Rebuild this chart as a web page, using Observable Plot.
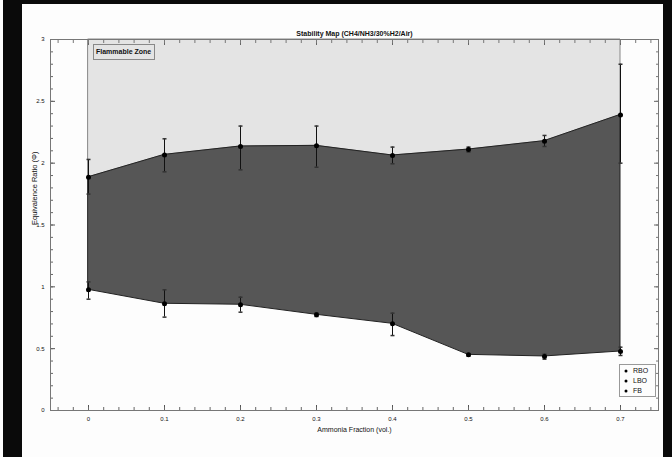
<!DOCTYPE html>
<html><head><meta charset="utf-8">
<meta name="color-scheme" content="only light">
<script src="https://cdn.jsdelivr.net/npm/d3@7"></script>
<script src="https://cdn.jsdelivr.net/npm/@observablehq/plot@0.6"></script>
<style>
html,body{margin:0;padding:0;background:#fdfdfd;}
svg{display:block;}
</style></head><body>
<script>
// Data
const fraction = [0, 0.1, 0.2, 0.3, 0.4, 0.5, 0.6, 0.7];
const rbo   = [1.886, 2.067, 2.135, 2.14, 2.062, 2.11, 2.178, 2.39];
const rboLo = [1.75, 1.93, 1.946, 1.967, 1.995, 2.09, 2.135, 2.0];
const rboHi = [2.03, 2.197, 2.30, 2.30, 2.13, 2.13, 2.224, 2.8];
const lbo   = [0.976, 0.863, 0.855, 0.774, 0.701, 0.45, 0.437, 0.477];
const lboLo = [0.90, 0.755, 0.795, 0.76, 0.606, 0.44, 0.415, 0.445];
const lboHi = [1.04, 0.976, 0.916, 0.79, 0.787, 0.46, 0.455, 0.512];
const xTicks = [0, 0.1, 0.2, 0.3, 0.4, 0.5, 0.6, 0.7];
const yTicks = [0, 0.5, 1, 1.5, 2, 2.5, 3];
const legendLabels = ["RBO", "LBO", "FB"];
const zoneLabel = "Flammable Zone";
const titleText = "Stability Map (CH4/NH3/30%H2/Air)";
const xLabel = "Ammonia Fraction (vol.)";
const yLabel = "Equivalence Ratio (\u03A6)";

const yMax = d3.max(yTicks);
const data = fraction.map((x, i) => ({x, rbo: rbo[i], rboLo: rboLo[i], rboHi: rboHi[i], lbo: lbo[i], lboLo: lboLo[i], lboHi: lboHi[i], top: yMax}));
const xMinor = d3.range(-4, 76, 2).map(d => d / 100);
const yMinor = d3.range(0, 31, 1).map(d => d / 10);
const cap = {draw(ctx, size) { const r = Math.sqrt(size / Math.PI); ctx.moveTo(-r, 0); ctx.lineTo(r, 0); }};
const none = () => "";
const fmt = d => String(d);
const FONT = "'Liberation Sans', Arial, sans-serif";
const PAPER = "#fdfdfd";

const chart = Plot.plot({
  width: 672, height: 457,
  marginLeft: 50, marginRight: 14, marginTop: 39, marginBottom: 47,
  style: {fontFamily: FONT, fontSize: "6px", color: "#111", background: PAPER},
  x: {domain: [-0.05, 0.75]},
  y: {domain: [0, yMax]},
  marks: [
    Plot.areaY(data, {x: "x", y1: "rbo", y2: "top", fill: "#e4e4e4", stroke: "#888", strokeWidth: 1}),
    Plot.areaY(data, {x: "x", y1: "lbo", y2: "rbo", fill: "#565656", stroke: "#222", strokeWidth: 1}),
    Plot.ruleX(data, {x: "x", y1: "rboLo", y2: "rboHi", stroke: "#111", strokeWidth: 1}),
    Plot.ruleX(data, {x: "x", y1: "lboLo", y2: "lboHi", stroke: "#111", strokeWidth: 1}),
    Plot.dot(data, {x: "x", y: "rboHi", symbol: cap, r: 2, stroke: "#333", fill: "none"}),
    Plot.dot(data, {x: "x", y: "rboLo", symbol: cap, r: 2, stroke: "#333", fill: "none"}),
    Plot.dot(data, {x: "x", y: "lboHi", symbol: cap, r: 2, stroke: "#333", fill: "none"}),
    Plot.dot(data, {x: "x", y: "lboLo", symbol: cap, r: 2, stroke: "#333", fill: "none"}),
    Plot.dot(data, {x: "x", y: "rbo", r: 2.5, fill: "#000"}),
    Plot.dot(data, {x: "x", y: "lbo", r: 2.5, fill: "#000"}),
    Plot.axisX({ticks: xTicks, tickSize: -5, tickPadding: 11, tickFormat: fmt, label: null, stroke: "#555", fill: "#111"}),
    Plot.axisX({ticks: xMinor, tickSize: -3, tickFormat: none, label: null, stroke: "#666"}),
    Plot.axisX({anchor: "top", ticks: xTicks, tickSize: -5, tickFormat: none, label: null, stroke: "#666"}),
    Plot.axisX({anchor: "top", ticks: xMinor, tickSize: -3, tickFormat: none, label: null, stroke: "#777"}),
    Plot.axisY({ticks: yTicks, tickSize: -5, tickPadding: 11, tickFormat: fmt, label: null, stroke: "#555", fill: "#111"}),
    Plot.axisY({ticks: yMinor, tickSize: -3, tickFormat: none, label: null, stroke: "#666"}),
    Plot.axisY({anchor: "right", ticks: yTicks, tickSize: -5, tickFormat: none, label: null, stroke: "#666"}),
    Plot.axisY({anchor: "right", ticks: yMinor, tickSize: -3, tickFormat: none, label: null, stroke: "#777"}),
    Plot.frame({stroke: "#777"}),
    Plot.text([titleText], {frameAnchor: "top", dy: -8, fontSize: 7, fontWeight: "bold", fill: "#111"}),
    Plot.text([xLabel], {frameAnchor: "bottom", dy: 21, fontSize: 7, fill: "#111"}),
    Plot.text([yLabel], {frameAnchor: "left", dx: -16, rotate: -90, fontSize: 7.5, fill: "#111"})
  ]
});

const svg = d3.select(chart);
svg.insert("rect", ":first-child").attr("x", 0).attr("y", 0).attr("width", 672).attr("height", 457).attr("fill", PAPER);
// "Flammable Zone" annotation box
const zone = svg.append("g").attr("font-family", FONT).attr("text-anchor", "start");
zone.append("rect").attr("x", 93.5).attr("y", 44.5).attr("width", 61).attr("height", 15).attr("fill", "#e4e4e4").attr("stroke", "#888");
zone.append("text").attr("x", 96).attr("y", 52).attr("dy", "0.35em").attr("font-size", 7).attr("font-weight", "bold").attr("fill", "#111").text(zoneLabel);
// legend box
const lg = svg.append("g").attr("font-family", FONT).attr("text-anchor", "start");
lg.append("rect").attr("x", 619.5).attr("y", 364.5).attr("width", 36).attr("height", 32).attr("fill", PAPER).attr("stroke", "#999");
legendLabels.forEach((t, i) => {
  lg.append("circle").attr("cx", 626).attr("cy", 371 + i * 10).attr("r", 1.5).attr("fill", "#000");
  lg.append("text").attr("x", 633).attr("y", 371 + i * 10).attr("dy", "0.35em").attr("font-size", 7).attr("fill", "#111").text(t);
});
// dark photo edges
const edges = svg.append("g").attr("fill", "#0a0a0a");
edges.append("rect").attr("x", 3).attr("y", 0).attr("width", 19).attr("height", 457);
edges.append("rect").attr("x", 22).attr("y", 0).attr("width", 641).attr("height", 4);
edges.append("rect").attr("x", 663).attr("y", 0).attr("width", 9).attr("height", 457);
document.body.appendChild(chart);
</script>
</body></html>
